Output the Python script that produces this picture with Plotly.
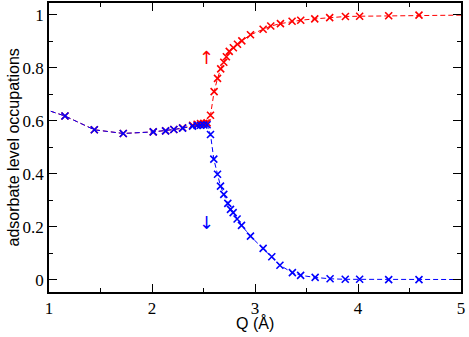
import plotly.graph_objects as go

# spin-up occupation (red)
q_up = [0.87, 1.155, 1.44, 1.721, 2.012, 2.132, 2.212, 2.297, 2.394, 2.438, 2.471, 2.503, 2.535,
        2.568, 2.603, 2.636, 2.667, 2.697, 2.722, 2.75, 2.79, 2.83, 2.872, 2.956, 3.079, 3.153,
        3.247, 3.36, 3.444, 3.58, 3.725, 3.878, 4.016, 4.298, 4.592, 5.2]
occ_up = [0.655, 0.618, 0.566, 0.552, 0.558, 0.562, 0.567, 0.573, 0.583, 0.587, 0.589, 0.590, 0.592,
          0.621, 0.710, 0.760, 0.796, 0.821, 0.842, 0.862, 0.876, 0.889, 0.902, 0.925, 0.946, 0.958,
          0.967, 0.976, 0.980, 0.985, 0.990, 0.994, 0.995, 0.997, 0.999, 1.0]

# spin-down occupation (blue)
q_down = [0.87, 1.155, 1.44, 1.721, 2.012, 2.132, 2.212, 2.297, 2.394, 2.438, 2.471, 2.503, 2.535,
          2.568, 2.600, 2.636, 2.665, 2.697, 2.736, 2.762, 2.788, 2.826, 2.869, 2.956, 3.079, 3.163,
          3.242, 3.363, 3.443, 3.584, 3.729, 3.876, 4.016, 4.298, 4.592, 5.2]
occ_down = [0.655, 0.618, 0.566, 0.552, 0.558, 0.562, 0.567, 0.572, 0.580, 0.582, 0.583, 0.584, 0.585,
            0.548, 0.455, 0.398, 0.353, 0.322, 0.288, 0.265, 0.253, 0.229, 0.205, 0.164, 0.118, 0.086,
            0.054, 0.026, 0.016, 0.008, 0.003, 0.001, 0.001, 0.0, 0.0, 0.0]

x_ticks = [1, 2, 3, 4, 5]
y_ticks = [0, 0.2, 0.4, 0.6, 0.8, 1]
y_labels = ["0", "0.2", "0.4", "0.6", "0.8", "1"]

SERIF = "Liberation Serif"
SANS = "Liberation Sans"


def occ_trace(x, y, color):
    return go.Scatter(
        x=x, y=y, mode="lines+markers",
        line=dict(color=color, width=1, dash="5px,3px"),
        marker=dict(symbol="x-thin", size=7, line=dict(color=color, width=1.6)),
        showlegend=False,
    )


fig = go.Figure()
fig.add_trace(occ_trace(q_up, occ_up, "#ff0000"))
fig.add_trace(occ_trace(q_down, occ_down, "#0000ff"))

axis_common = dict(
    showline=True, linecolor="black", linewidth=1.5, mirror="allticks",
    ticks="inside", ticklen=8, tickwidth=1.2, tickcolor="black",
    showgrid=False, zeroline=False, automargin=False,
    tickfont=dict(family=SERIF, size=17, color="black"),
)

fig.update_xaxes(
    range=[1, 5], tickvals=x_ticks,
    minor=dict(dtick=0.5, ticks="inside", ticklen=4, tickcolor="black", tickwidth=1),
    **axis_common,
)
fig.update_yaxes(
    range=[-0.047, 1.045], tickvals=y_ticks, ticktext=y_labels,
    minor=dict(dtick=0.1, ticks="inside", ticklen=4, tickcolor="black", tickwidth=1),
    **axis_common,
)

# axis titles
fig.add_annotation(x=0, y=0.5, xref="paper", yref="paper", xanchor="center", yanchor="middle",
                   xshift=-36, textangle=-90, showarrow=False, text="adsorbate level occupations",
                   font=dict(family=SANS, size=16, color="black"))
fig.add_annotation(x=0.5, y=0, xref="paper", yref="paper", xanchor="center", yanchor="middle",
                   yshift=-31, showarrow=False, text="Q (Å)",
                   font=dict(family=SANS, size=16, color="black"))

# spin labels
fig.add_annotation(x=2.53, y=0.84, text="↑", showarrow=False,
                   font=dict(family="DejaVu Sans", size=18, color="#ff0000"))
fig.add_annotation(x=2.53, y=0.217, text="↓", showarrow=False,
                   font=dict(family="DejaVu Sans", size=18, color="#0000ff"))

fig.update_layout(
    width=469, height=337,
    margin=dict(l=49, r=8, t=3, b=45),
    paper_bgcolor="white", plot_bgcolor="white",
)

# page body has a default 8px margin; drop it so the figure sits at the corner
fig.write_html("out.html", config={"displayModeBar": False},
               post_script="document.body.style.margin='0px';")
